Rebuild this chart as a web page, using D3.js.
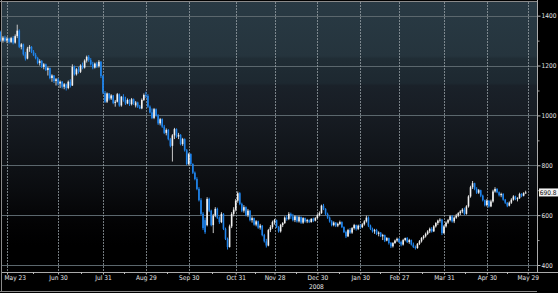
<!DOCTYPE html>
<html>
<head>
<meta charset="utf-8">
<script src="https://cdn.jsdelivr.net/npm/d3@7"></script>
<style>
  html, body { margin: 0; padding: 0; background: #000; }
  svg { display: block; }
  text { font-family: "Liberation Sans Narrow", "DejaVu Sans Condensed", "Arial Narrow", sans-serif; }
</style>
</head>
<body>
<div id="chart"></div>
<script>
// daily candles, May 20 2008 .. May 28 2009 (one line per month)
var opens = [
  1335,1300,1312,1300,1308,1295,1310,1292,
  1318,1340,1275,1285,1245,1228,1268,1275,1255,1242,1230,1210,1218,1195,1205,1182,1190,1150,1160,1138,1145,
  1128,1135,1115,1125,1110,1135,1120,1195,1165,1185,1175,1200,1192,1220,1235,1222,1205,1192,1208,1198,1215,1158,
  1090,1055,1088,1068,1080,1050,1055,1085,1040,1075,1062,1048,1062,1045,1065,1040,1052,1035,1028,1062,1082,
  1078,1035,1012,990,1025,1000,968,985,955,930,942,905,878,920,945,915,922,885,905,860,805,
  845,805,770,745,705,660,605,580,560,665,618,560,598,625,590,572,605,545,505,472,555,605,622,
  658,688,645,618,632,600,618,580,588,562,575,550,558,520,495,478,540,552,572,
  580,552,535,560,568,590,585,605,595,580,595,575,592,570,588,575,580,572,585,578,588,600,
  608,638,625,605,590,575,560,570,558,565,572,552,532,515,540,530,548,560,545,558,
  552,563,575,590,558,545,535,540,525,530,515,520,498,508,488,475,488,498,505,
  492,482,500,508,492,500,482,472,468,485,495,508,515,525,535,545,535,555,568,578,582,528,
  555,570,580,595,575,590,598,608,615,622,605,635,675,712,728,705,690,700,678,660,640,
  658,635,655,695,705,692,680,685,662,650,638,650,662,675,665,668,685,678,688
];
var highs = [
  1340,1318,1320,1315,1312,1315,1318,1325,
  1364,1345,1290,1288,1255,1275,1282,1278,1262,1250,1235,1225,1222,1210,1208,1195,1192,1165,1162,1150,1150,
  1140,1138,1130,1128,1140,1145,1205,1200,1190,1195,1205,1212,1225,1240,1242,1230,1215,1212,1215,1222,1218,1162,
  1098,1092,1090,1085,1082,1062,1090,1088,1078,1085,1075,1068,1065,1070,1068,1058,1055,1042,1068,1088,1095,
  1085,1040,1028,1030,1028,1005,990,988,962,948,945,910,925,950,948,930,925,910,908,865,850,
  848,808,775,752,712,668,612,590,672,670,622,605,632,630,595,612,608,550,510,562,612,632,665,
  695,692,650,640,635,625,620,595,590,580,578,565,560,525,505,545,560,578,585,
  582,556,565,572,595,600,612,610,605,600,598,598,595,592,590,585,583,588,590,592,605,615,
  642,645,628,610,595,580,575,572,570,578,575,555,538,545,548,552,565,562,562,565,
  568,580,598,595,562,550,545,545,535,532,525,522,512,510,492,492,502,510,508,
  498,505,510,512,505,502,490,478,488,500,512,520,530,540,550,552,560,572,582,588,585,560,
  575,585,600,600,595,605,612,620,628,630,640,680,718,737,730,712,705,702,682,662,665,
  660,662,702,712,708,695,690,688,665,652,655,668,680,678,672,690,688,692,698
];
var lows = [
  1295,1292,1295,1290,1288,1290,1285,1288,
  1310,1270,1265,1240,1220,1225,1255,1250,1238,1225,1205,1200,1190,1185,1178,1160,1145,1135,1130,1120,1120,
  1110,1108,1105,1100,1105,1112,1118,1160,1160,1168,1170,1185,1188,1212,1215,1200,1185,1188,1190,1192,1150,1085,
  1050,1050,1060,1062,1045,1035,1052,1035,1035,1055,1042,1045,1038,1040,1042,1032,1030,1025,1025,1058,1070,
  1030,1008,985,985,995,962,960,950,925,920,900,872,815,905,910,905,880,878,855,800,800,
  800,765,740,700,655,600,540,525,555,612,555,528,592,585,565,568,540,500,462,470,548,595,615,
  650,640,612,610,595,592,575,570,558,555,545,542,515,490,470,475,532,545,562,
  548,530,530,552,565,578,580,585,575,572,570,570,565,565,570,568,568,570,572,575,585,595,
  605,620,600,585,570,555,555,552,552,560,548,528,508,512,525,525,542,538,540,545,
  548,558,570,552,540,530,525,520,515,512,500,492,495,482,468,470,485,492,488,
  475,478,495,488,485,478,468,462,465,480,490,502,510,520,528,530,532,550,560,570,520,525,
  550,565,575,570,568,585,592,600,608,600,602,630,670,705,700,685,685,672,655,635,635,
  630,632,650,690,688,675,672,658,645,632,635,645,658,660,655,665,672,675,686
];
var closes = [
  1300,1312,1300,1308,1295,1310,1292,1318,
  1340,1275,1285,1245,1228,1268,1275,1255,1242,1230,1210,1218,1195,1205,1182,1190,1150,1160,1138,1145,1128,
  1135,1115,1125,1110,1135,1120,1195,1165,1185,1175,1200,1192,1220,1235,1222,1205,1192,1208,1198,1215,1158,1092,
  1055,1088,1068,1080,1050,1055,1085,1040,1075,1062,1048,1062,1045,1065,1050,1052,1035,1028,1062,1082,1078,
  1035,1012,990,1025,1000,968,985,955,930,942,905,878,920,945,915,922,885,905,860,805,845,
  805,770,745,705,660,605,548,532,665,618,560,598,625,590,572,605,545,505,472,555,605,622,658,
  688,645,618,632,600,618,580,588,562,575,550,558,520,495,478,540,552,572,580,
  552,535,560,568,590,585,605,595,580,595,575,592,570,588,575,580,572,585,578,588,600,608,
  638,625,605,590,575,560,570,558,565,572,552,532,515,540,530,548,560,545,558,552,
  563,575,590,558,545,535,540,525,530,515,520,498,508,488,475,488,498,505,492,
  482,500,508,492,500,482,472,468,485,495,508,515,525,535,545,535,555,568,578,582,528,555,
  570,580,595,575,590,598,608,615,622,605,635,675,712,728,705,690,700,678,660,640,658,
  635,655,695,705,692,680,685,662,650,638,650,662,675,665,668,685,678,688,691
];

var startDay = "2008-05-20";
var endDay = "2009-05-29";
var holidays = ["2008-05-26","2008-07-04","2008-09-01","2008-11-27","2008-12-25",
                "2009-01-01","2009-01-19","2009-02-16","2009-04-10","2009-05-25"];

var tickDates = ["2008-05-23","2008-06-30","2008-07-31","2008-08-29","2008-09-30","2008-10-31",
                 "2008-11-28","2008-12-30","2009-01-30","2009-02-27","2009-03-31","2009-04-30","2009-05-29"];
var tickLabels = ["May 23","Jun 30","Jul 31","Aug 29","Sep 30","Oct 31",
                  "Nov 28","Dec 30","Jan 30","Feb 27","Mar 31","Apr 30","May 29"];
var yTicks = [400, 600, 800, 1000, 1200, 1400];
var yMinorTicks = [500, 700, 900, 1100, 1300];
var yearLabel = "2008";
var lastLabel = "690.8";

var W = 558, H = 293;
var plotLeft = 2, plotRight = 537, plotTop = 2, plotBottom = 272;
var labelFont = "'Liberation Sans Narrow', 'DejaVu Sans Condensed', sans-serif";

var parse = d3.utcParse("%Y-%m-%d"), fmt = d3.utcFormat("%Y-%m-%d");
var days = d3.utcDay.range(parse(startDay), d3.utcDay.offset(parse(endDay), 1))
  .filter(function(d) {
    var w = d.getUTCDay();
    return w > 0 && w < 6 && holidays.indexOf(fmt(d)) < 0;
  })
  .map(fmt);

var candles = closes.map(function(c, i) {
  return { day: days[i], o: opens[i], h: highs[i], l: lows[i], c: c };
});

var x = d3.scalePoint().domain(days).range([0.9, 527.7]);
var y = d3.scaleLinear().domain([400, 1400]).range([265, 15.7]);

var svg = d3.select("#chart").append("svg")
  .attr("width", W)
  .attr("height", H);

svg.append("rect").attr("width", W).attr("height", H).attr("fill", "#000");

var grad = svg.append("defs").append("linearGradient")
  .attr("id", "bg").attr("x1", 0).attr("y1", 0).attr("x2", 0).attr("y2", 1);
[[0, "#293a44"], [0.2, "#25343d"], [0.21, "#202d35"], [0.3, "#1d2830"], [0.31, "#1a2129"],
 [0.42, "#171c23"], [0.55, "#11151a"], [0.7, "#0a0c0f"], [0.82, "#030304"], [0.9, "#000"]]
  .forEach(function(s) {
    grad.append("stop").attr("offset", s[0]).attr("stop-color", s[1]);
  });

svg.append("rect")
  .attr("x", plotLeft).attr("y", plotTop)
  .attr("width", plotRight - plotLeft).attr("height", plotBottom - plotTop)
  .attr("fill", "url(#bg)");

// horizontal grid
svg.append("g").selectAll("line")
  .data(yTicks)
  .enter().append("line")
  .attr("x1", plotLeft).attr("x2", plotRight)
  .attr("y1", function(d) { return Math.round(y(d)) + 0.5; })
  .attr("y2", function(d) { return Math.round(y(d)) + 0.5; })
  .attr("stroke", "#5b676d")
  .attr("stroke-width", 1);

// vertical dotted grid
svg.append("g").selectAll("line")
  .data(tickDates)
  .enter().append("line")
  .attr("x1", function(d) { return Math.round(x(d)) + 0.5; })
  .attr("x2", function(d) { return Math.round(x(d)) + 0.5; })
  .attr("y1", plotTop).attr("y2", plotBottom)
  .attr("stroke", "#9aa3a8")
  .attr("stroke-opacity", 0.75)
  .attr("stroke-dasharray", "2,1");

// candles
var upColor = "#f2f2f2", downColor = "#1f84ec";
var candleG = svg.append("g");
candleG.selectAll("line")
  .data(candles)
  .enter().append("line")
  .attr("x1", function(d) { return x(d.day); })
  .attr("x2", function(d) { return x(d.day); })
  .attr("y1", function(d) { return y(d.h); })
  .attr("y2", function(d) { return y(d.l); })
  .attr("stroke", function(d) { return d.c >= d.o ? "#c8c8c8" : downColor; })
  .attr("stroke-width", 1);
candleG.selectAll("rect")
  .data(candles)
  .enter().append("rect")
  .attr("x", function(d) { return x(d.day) - 0.8; })
  .attr("width", 1.6)
  .attr("y", function(d) { return y(Math.max(d.o, d.c)); })
  .attr("height", function(d) { return Math.max(1, Math.abs(y(d.o) - y(d.c))); })
  .attr("fill", function(d) { return d.c >= d.o ? upColor : downColor; });

// frame lines
svg.append("line").attr("x1", 1.5).attr("x2", 1.5).attr("y1", 0).attr("y2", 292)
  .attr("stroke", "#8a8a8a");
svg.append("line").attr("x1", 0).attr("x2", plotRight).attr("y1", 1.5).attr("y2", 1.5)
  .attr("stroke", "#8a8a8a");
svg.append("line").attr("x1", 0).attr("x2", plotRight).attr("y1", 291.5).attr("y2", 291.5)
  .attr("stroke", "#8a8a8a");

// right axis
var yAxis = svg.append("g")
  .attr("transform", "translate(" + (plotRight + 0.5) + ",0)")
  .call(d3.axisRight(y).tickValues(yTicks).tickSize(3).tickPadding(1).tickFormat(d3.format("d")));
yAxis.select(".domain").remove();
yAxis.selectAll("line").attr("stroke", "#bbbbbb");
yAxis.selectAll("text").attr("fill", "#e6e6e6").attr("font-size", "6.5px")
  .style("font-family", labelFont);
var yMinor = svg.append("g")
  .attr("transform", "translate(" + (plotRight + 0.5) + ",0)")
  .call(d3.axisRight(y).tickValues(yMinorTicks).tickSize(2).tickFormat(""));
yMinor.select(".domain").remove();
yMinor.selectAll("line").attr("stroke", "#999999");
svg.append("line").attr("x1", plotRight + 0.5).attr("x2", plotRight + 0.5)
  .attr("y1", 0).attr("y2", plotBottom)
  .attr("stroke", "#aaaaaa");

// bottom axis
svg.append("line").attr("x1", plotLeft).attr("x2", W).attr("y1", plotBottom + 0.5).attr("y2", plotBottom + 0.5)
  .attr("stroke", "#aaaaaa");
var xAxis = svg.append("g")
  .attr("transform", "translate(0," + (plotBottom + 0.5) + ")")
  .call(d3.axisBottom(x).tickValues(tickDates).tickSize(2).tickPadding(1)
    .tickFormat(function(d, i) { return tickLabels[i]; }));
xAxis.select(".domain").remove();
xAxis.selectAll("line").attr("stroke", "#bbbbbb");
xAxis.selectAll("text").attr("fill", "#e6e6e6").attr("font-size", "6.5px")
  .style("font-family", labelFont);
xAxis.select(".tick text").attr("text-anchor", "start").attr("x", 4 - x(tickDates[0]));

// minor ticks halfway between labelled dates
var mids = d3.pairs(tickDates).map(function(p) { return (x(p[0]) + x(p[1])) / 2; });
svg.append("g").selectAll("line")
  .data(mids)
  .enter().append("line")
  .attr("x1", function(d) { return Math.round(d) + 0.5; })
  .attr("x2", function(d) { return Math.round(d) + 0.5; })
  .attr("y1", plotBottom).attr("y2", plotBottom + 2)
  .attr("stroke", "#bbbbbb");

svg.append("text")
  .attr("x", x(tickDates[7]) - 1)
  .attr("y", 289)
  .attr("text-anchor", "middle")
  .attr("fill", "#e6e6e6")
  .attr("font-size", "6.5px")
  .style("font-family", labelFont)
  .text(yearLabel);

// last price tag
var lastY = y(closes[closes.length - 1]);
svg.append("rect")
  .attr("x", plotRight + 2).attr("y", lastY - 4)
  .attr("width", 19).attr("height", 8)
  .attr("fill", "#f2f2f2");
svg.append("text")
  .attr("x", plotRight + 2.8).attr("y", lastY + 2.3)
  .attr("fill", "#111")
  .attr("font-size", "6.5px")
  .style("font-family", labelFont)
  .text(lastLabel);
</script>
</body>
</html>
